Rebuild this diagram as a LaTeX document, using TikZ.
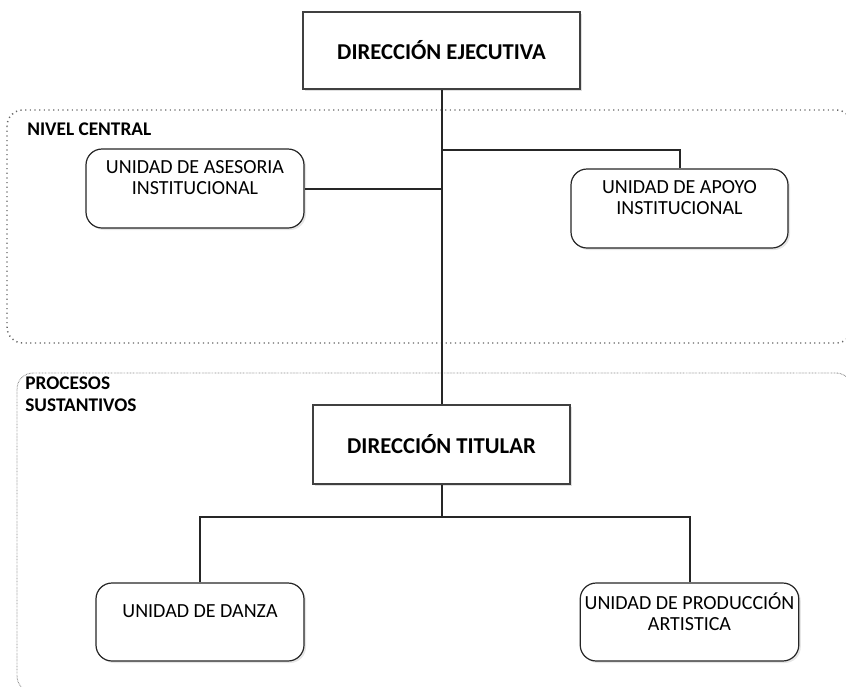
\documentclass[tikz,border=0pt]{standalone}
\usepackage{fontspec}
\setmainfont{Carlito}
\usetikzlibrary{shadows}
\def\px{0.75pt}
\begin{document}
\begin{tikzpicture}[x=0.75pt,y=-0.75pt,
  direccion/.style={draw=black!75,line width=1.6pt,fill=white,minimum width=270*\px,minimum height=77*\px,
    font=\fontsize{17}{19}\selectfont\bfseries,drop shadow={shadow xshift=1.5pt,shadow yshift=-1.5pt,opacity=0.25}},
  unidad/.style={draw=black!85,line width=0.9pt,fill=white,rounded corners=12pt,minimum width=217*\px,minimum height=79*\px,
    align=center,font=\fontsize{15}{15.75}\selectfont,drop shadow={shadow xshift=1.5pt,shadow yshift=-1.5pt,opacity=0.2}},
  conector/.style={draw=black!85,line width=1.5pt},
  nivel/.style={draw=black!60,line width=1.1pt,dash pattern=on 0.9pt off 2.6pt,rounded corners=12pt},
  procesos/.style={draw=black!45,line width=0.7pt,dash pattern=on 0.5pt off 0.6pt,rounded corners=12pt},
  etiqueta/.style={font=\fontsize{14.5}{16.5}\selectfont\bfseries,inner sep=0pt,align=left}]
  \useasboundingbox (0,0) rectangle (846,686);
  \clip (0,0) rectangle (846,686);
  % regions
  \draw[nivel] (7,110) rectangle (852,343);
  \draw[procesos] (17,373) rectangle (852,692);
  \node[etiqueta,anchor=west] (lblNivel) at (27,129) {NIVEL CENTRAL};
  \node[etiqueta,anchor=north west] (lblProcesos) at (25,377) {PROCESOS\\SUSTANTIVOS};
  % direcciones
  \node[direccion,minimum width=277*\px] (ejecutiva) at (441.5,50.5) {DIRECCIÓN EJECUTIVA};
  \node[direccion,minimum width=257*\px,minimum height=79*\px] (titular) at (441.5,444.5) {DIRECCIÓN TITULAR};
  % unidades
  \node[unidad,minimum width=218*\px] (asesoria) at (195,188.5) {UNIDAD DE ASESORIA\\INSTITUCIONAL\\~};
  \node[unidad] (apoyo) at (679.5,208.5) {UNIDAD DE APOYO\\INSTITUCIONAL\\~};
  \node[unidad,minimum width=208*\px,minimum height=78*\px] (danza) at (200,622) {UNIDAD DE DANZA\\~};
  \node[unidad,minimum height=78*\px] (produccion) at (689.5,622) {UNIDAD DE PRODUCCIÓN\\ARTISTICA\\~};
  % connectors
  \coordinate (ramaApoyo) at (441.5,150);
  \coordinate (ramaUnidades) at (441.5,517);
  \draw[conector] (ejecutiva.south) -- (titular.north);
  \draw[conector] (asesoria.east) -- (asesoria.east -| ejecutiva.south);
  \draw[conector] (ramaApoyo) -| (apoyo.north);
  \draw[conector] (titular.south) -- (ramaUnidades);
  \draw[conector] (ramaUnidades) -| (danza.north);
  \draw[conector] (ramaUnidades) -| (produccion.north);
\end{tikzpicture}
\end{document}
